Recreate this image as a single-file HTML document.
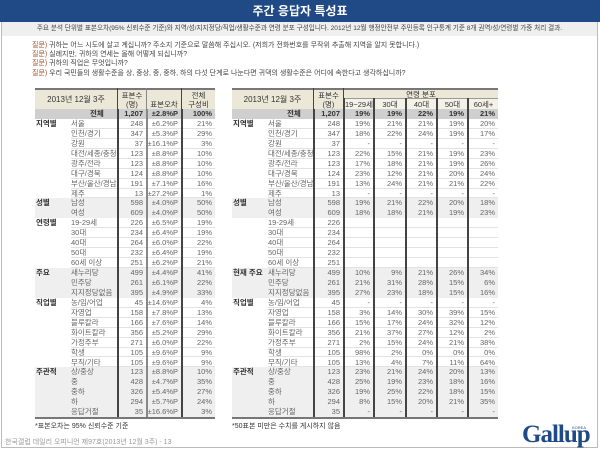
<!DOCTYPE html>
<html><head><meta charset="utf-8">
<style>
*{margin:0;padding:0;box-sizing:border-box}
body{width:600px;height:450px;background:#fff;font-family:"Liberation Sans","Noto Sans CJK KR",sans-serif;position:relative;overflow:hidden;color:#555}
.abs{position:absolute;white-space:nowrap}
#frame{position:absolute;left:1px;top:0;width:597px;height:448px;border:1px solid #bbb}
#title{position:absolute;left:0;top:0;width:600px;height:22px;background:#1f4a86;color:#fff;font-weight:bold;font-size:12px;text-align:center;line-height:22px}
#sub{position:absolute;left:2px;top:22px;width:595px;height:14px;background:#efefef;font-size:6.6px;line-height:14px;text-align:center;color:#444;white-space:nowrap;overflow:hidden}
.q{font-size:7px;line-height:9px;color:#444;left:32px}
.q b{color:#a0522d;font-weight:normal}
.c{font-size:7.5px;position:absolute;white-space:nowrap;line-height:9.9px}
.hd{position:absolute;background:#ece8d8;font-size:7.5px;color:#333;text-align:center;display:flex;align-items:center;justify-content:center;line-height:9px;border-top:2px solid #777}
.vl{position:absolute;width:1.5px;background:#444}
</style></head><body>
<div id="frame"></div>
<div id="title">주간 응답자 특성표</div>
<div id="sub">주요 분석 단위별 표본오차(95% 신뢰수준 기준)와 지역/성/지지정당/직업/생활수준과 연령 분포 구성입니다. 2012년 12월 행정안전부 주민등록 인구통계 기준 8개 권역/성/연령별 가중 처리 결과.</div>
<div class="abs q" style="top:41px"><b>질문)</b> 귀하는 어느 시도에 살고 계십니까? 주소지 기준으로 말씀해 주십시오. (저희가 전화번호를 무작위 추출해 지역을 알지 못합니다.)</div>
<div class="abs q" style="top:50px"><b>질문)</b> 실례지만, 귀하의 연세는 올해 어떻게 되십니까?</div>
<div class="abs q" style="top:59px"><b>질문)</b> 귀하의 직업은 무엇입니까?</div>
<div class="abs q" style="top:69px"><b>질문)</b> 우리 국민들의 생활수준을 상, 중상, 중, 중하, 하의 다섯 단계로 나눈다면 귀댁의 생활수준은 어디에 속한다고 생각하십니까?</div>

<div id="left"></div>
<div id="right"></div>

<div class="abs" style="left:35px;top:421px;font-size:7px;color:#333">*표본오차는 95% 신뢰수준 기준</div>
<div class="abs" style="left:232px;top:421px;font-size:7px;color:#333">*50표본 미만은 수치를 게시하지 않음</div>
<div class="abs" style="left:5px;top:437px;font-size:7px;color:#999">한국갤럽 데일리 오피니언 제97호(2013년 12월 3주) - 13</div>
<div class="abs" style="left:522px;top:421px;font-size:25px;font-weight:bold;color:#1f4a86;font-family:'Liberation Serif',serif;letter-spacing:-1px">Gallup</div>
<div class="abs" style="left:572px;top:425px;font-size:4px;color:#1f4a86">KOREA</div>

<script>
const groups = ["","지역별","","","","","","","","성별","","연령별","","","","","주요\n지지 정당별","","","직업별","","","","","","","주관적\n생활수준","","","",""];
const rgroups = ["","지역별","","","","","","","","성별","","","","","","","현재 주요\n지지 정당별","","","직업별","","","","","","","주관적\n생활수준","","","",""];
const subs = ["전체","서울","인천/경기","강원","대전/세종/충청","광주/전라","대구/경북","부산/울산/경남","제주","남성","여성","19-29세","30대","40대","50대","60세 이상","새누리당","민주당","지지정당없음","농/임/어업","자영업","블루칼라","화이트칼라","가정주부","학생","무직/기타","상/중상","중","중하","하","응답거절"];
const samples = [1207,248,347,37,123,123,124,191,13,598,609,226,234,264,232,251,499,261,395,45,158,166,356,271,105,105,123,428,326,294,35];
const errors = [2.8,6.2,5.3,16.1,8.8,8.8,8.8,7.1,27.2,4.0,4.0,6.5,6.4,6.0,6.4,6.2,4.4,6.1,4.9,14.6,7.8,7.6,5.2,6.0,9.6,9.6,8.8,4.7,5.4,5.7,16.6];
const shares = [100,21,29,3,10,10,10,16,1,50,50,19,19,22,19,21,41,22,33,4,13,14,29,22,9,9,10,35,27,24,3];
const ageHeaders = ["19~29세","30대","40대","50대","60세+"];
const age1929 = [19,19,18,null,22,17,23,13,null,19,18,"","","","","",10,21,27,null,3,15,21,2,98,13,23,25,19,8,null];
const age30 = [19,21,22,null,15,18,12,24,null,21,18,"","","","","",9,31,23,null,14,17,37,15,2,4,21,19,25,15,null];
const age40 = [22,21,24,null,21,21,21,21,null,22,21,"","","","","",21,28,18,null,30,24,27,24,0,7,24,23,22,20,null];
const age50 = [19,19,19,null,19,19,20,21,null,20,19,"","","","","",26,15,15,null,39,32,12,21,0,11,20,18,18,21,null];
const age60 = [21,20,17,null,23,26,24,22,null,18,23,"","","","","",34,6,16,null,15,12,2,38,0,64,13,16,15,35,null];
const shaded = [false,false,false,false,false,false,false,false,false,true,true,false,false,false,false,false,true,true,true,false,false,false,false,false,false,false,true,true,true,true,true];

const Y0=109, RH=9.94;
function add(parent, cls, x, y, w, text, align, extra){
  const d=document.createElement('div');
  d.className=cls;
  d.style.left=x+'px';d.style.top=y+'px';
  if(w!=null){d.style.width=w+'px';d.style.textAlign=align||'left';}
  if(extra)Object.assign(d.style,extra);
  d.textContent=text;
  document.body.appendChild(d);
  return d;
}
function fmtP(v){return v===null?'-':(v===''?'':v+'%');}

function buildTable(left, right, cols, groupArr, prefix){
  const h=document.createElement('div');
  h.className='hd';
  
  
  Object.assign(h.style,{left:left+'px',top:'88px',width:(cols[0].x-left)+'px',height:'21px',fontSize:'8px'});
  h.textContent='2013년 12월 3주';
  document.body.appendChild(h);
  for(let i=0;i<subs.length;i++){
    const y=Y0+i*RH;
    const bg=document.createElement('div');
    
    
    let bgc = i===0?'#cfcfcf':(shaded[i]?'#efefef':'#fff');
    Object.assign(bg.style,{position:'absolute',left:(i===0?left:left+36)+'px',top:y+'px',width:(right-(i===0?left:left+36))+'px',height:RH+'px',background:bgc,borderBottom:(i>0&&!shaded[i]&&i<subs.length-1)?'1px solid #e2e2e2':'none'});
    document.body.appendChild(bg);
    if(shaded[i]){
      const g=document.createElement('div');
      
      
      Object.assign(g.style,{position:'absolute',left:left+'px',top:y+'px',width:'36px',height:RH+'px',background:'#efefef'});
      document.body.appendChild(g);
    }
    if(groupArr[i]){
      const lines=groupArr[i].split('\n');
      lines.forEach((t,k)=>{
        const e=add(document.body,'c',left+1,y+k*RH,null,t,null,{color:'#333',fontWeight:'bold'});
        
        
      });
    }
    const sx = i===0? left+55 : left+36;
    const s=add(document.body,'c',sx,y,null,subs[i],null,{color:i===0?'#333':'#666',fontWeight:i===0?'bold':'normal'});
    
    
    cols.forEach(c=>{
      const e=add(document.body,'c',c.x,y,c.w-3,c.vals(i),'right',{color:i===0?'#333':'#666',fontWeight:i===0?'bold':'normal'});
      
      
    });
  }
  cols.forEach(c=>{
    const v=document.createElement('div');
    v.className='vl';
    
    
    Object.assign(v.style,{left:c.x+'px',top:'88px',height:(Y0+subs.length*RH-88)+'px',background:c.line||'#444'});
    document.body.appendChild(v);
  });
  const b=document.createElement('div');
  
  
  Object.assign(b.style,{position:'absolute',left:left+'px',top:(Y0+subs.length*RH)+'px',width:(right-left)+'px',height:'2px',background:'#777'});
  document.body.appendChild(b);
}

const lcols=[
  {x:117,w:29,vals:i=>samples[i].toLocaleString('en-US')},
  {x:146,w:35,vals:i=>'±'+errors[i].toFixed(1)+'%P',line:'#888'},
  {x:181,w:34,vals:i=>shares[i]+'%'}
];
buildTable(35,215,lcols,groups,'left');
[[117,29,'표본수\n(명)'],[146,35,'표본오차'],[181,34,'전체\n구성비']].forEach(([x,w,t])=>{
  const h=document.createElement('div');h.className='hd';
  
  
  Object.assign(h.style,{left:x+1+'px',top:'88px',width:(w-1)+'px',height:'21px',whiteSpace:'pre',alignItems:t.includes('\n')?'center':'flex-end'});
  h.textContent=t;document.body.appendChild(h);
});

const ageArrs=[age1929,age30,age40,age50,age60];
const rcols=[{x:313,w:30,vals:i=>samples[i].toLocaleString('en-US')}];
const ax=[343,373,405,436,467], aw=[30,32,31,31,31];
ageArrs.forEach((a,k)=>rcols.push({x:ax[k],w:aw[k],vals:i=>fmtP(a[i])}));
buildTable(232,498,rcols,rgroups,'right');
{
  const h=document.createElement('div');h.className='hd';
  
  
  Object.assign(h.style,{left:'314px',top:'88px',width:'29px',height:'21px',whiteSpace:'pre'});
  h.textContent='표본수\n(명)';document.body.appendChild(h);
  const g=document.createElement('div');g.className='hd';
  
  
  Object.assign(g.style,{left:'344px',top:'88px',width:'154px',height:'10px'});
  g.textContent='연령 분포';document.body.appendChild(g);
  ageHeaders.forEach((t,k)=>{
    const e=document.createElement('div');e.className='hd';
    
    
    Object.assign(e.style,{left:ax[k]+2+'px',top:'98px',width:(aw[k]-2)+'px',height:'11px',borderTop:'1px solid #999',background:'#f4f1e6'});
    e.textContent=t;document.body.appendChild(e);
  });
}
</script>
</body></html>
